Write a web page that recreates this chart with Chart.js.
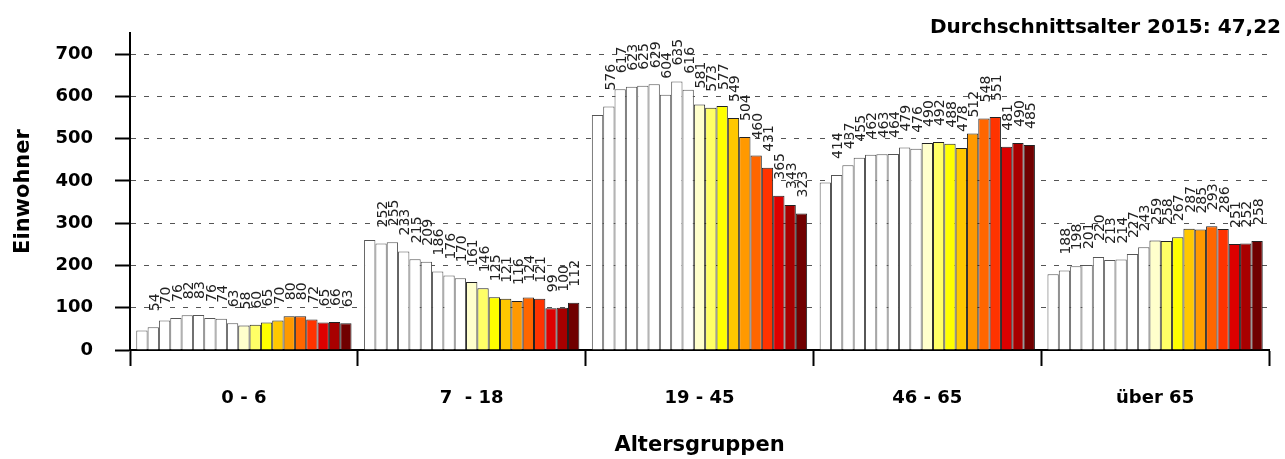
<!DOCTYPE html>
<html lang="de">
<head>
<meta charset="utf-8">
<title>Einwohner nach Altersgruppen</title>
<script src="https://cdn.jsdelivr.net/npm/chart.js@4.4.1/dist/chart.umd.min.js"></script>
<style>
	html, body { margin: 0; padding: 0; background: #fff; }
	#chart-wrap { position: relative; width: 1285px; height: 459px; }
</style>
</head>
<body>
<div id="chart-wrap"><canvas id="age-chart"></canvas></div>
<script>
	'use strict';

	// Age groups (x categories)
	const ageGroups = ['0 - 6', '7  - 18', '19 - 45', '46 - 65', 'über 65'];

	// One bar per year inside every group
	const years = [1997, 1998, 1999, 2000, 2001, 2002, 2003, 2004, 2005, 2006,
		2007, 2008, 2009, 2010, 2011, 2012, 2013, 2014, 2015];

	// Residents per age group, year by year
	const age0to6 = [46, 54, 70, 76, 82, 83, 76, 74, 63, 58, 60, 65, 70, 80, 80, 72, 65, 66, 63];
	const age7to18 = [260, 252, 255, 233, 215, 209, 186, 176, 170, 161, 146, 125, 121, 116, 124, 121, 99, 100, 112];
	const age19to45 = [556, 576, 617, 623, 625, 629, 604, 635, 616, 581, 573, 577, 549, 504, 460, 431, 365, 343, 323];
	const age46to65 = [396, 414, 437, 455, 462, 463, 464, 479, 476, 490, 492, 488, 478, 512, 548, 551, 481, 490, 485];
	const ageOver65 = [179, 188, 198, 201, 220, 213, 214, 227, 243, 259, 258, 267, 287, 285, 293, 286, 251, 252, 258];

	// Y axis ticks
	const yTicks = [0, 100, 200, 300, 400, 500, 600, 700];

	const headline = 'Durchschnittsalter 2015: 47,22';

	// Bar fill per year: older years white, recent years yellow -> dark red
	const yearColors = ['#ffffff', '#ffffff', '#ffffff', '#ffffff', '#ffffff', '#ffffff',
		'#ffffff', '#ffffff', '#ffffff', '#ffffcc', '#ffff66', '#ffff00', '#ffc800',
		'#ff9900', '#ff6600', '#ff3300', '#dd0000', '#a80000', '#700000'];

	const FONT = "'DejaVu Sans', Verdana, sans-serif";
	Chart.defaults.font.family = FONT;
	Chart.defaults.color = '#000';

	const groupSeries = [age0to6, age7to18, age19to45, age46to65, ageOver65];

	const datasets = years.map((year, i) => ({
		label: String(year),
		data: groupSeries.map(series => series[i]),
		backgroundColor: yearColors[i],
		borderColor: i < 9 ? '#555' : '#222',
		borderWidth: 1,
		barPercentage: 1,
		categoryPercentage: 0.945
	}));

	/**
	 * Rotated value labels above each bar (first year has none)
	 */
	const valueLabels = {
		id: 'valueLabels',
		afterDatasetsDraw(chart) {
			const ctx = chart.ctx;
			ctx.save();
			ctx.font = '14px ' + FONT;
			ctx.fillStyle = '#222';
			ctx.textAlign = 'left';
			ctx.textBaseline = 'middle';
			chart.data.datasets.forEach((ds, i) => {
				if (i === 0) return;
				const meta = chart.getDatasetMeta(i);
				meta.data.forEach((bar, j) => {
					ctx.save();
					ctx.translate(bar.x + 2, bar.y - 16);
					ctx.rotate(-Math.PI / 2);
					ctx.fillText(String(ds.data[j]), 0, 0);
					ctx.restore();
				});
			});
			ctx.restore();
		}
	};

	/**
	 * Headline in the top right corner
	 */
	const headlineText = {
		id: 'headlineText',
		afterDraw(chart) {
			const ctx = chart.ctx;
			ctx.save();
			ctx.font = 'bold 20px ' + FONT;
			ctx.fillStyle = '#000';
			ctx.textAlign = 'right';
			ctx.textBaseline = 'middle';
			ctx.fillText(headline, 1281, 28);
			ctx.restore();
		}
	};

	new Chart(document.getElementById('age-chart'), {
		type: 'bar',
		data: {
			labels: ageGroups,
			datasets: datasets
		},
		options: {
			responsive: true,
			maintainAspectRatio: false,
			animation: false,
			layout: {
				padding: { top: 33, right: 16, bottom: 0, left: 0 }
			},
			plugins: {
				legend: { display: false },
				tooltip: { enabled: false }
			},
			scales: {
				x: {
					afterFit: scale => { scale.height = 109; },
					grid: {
						offset: true,
						drawOnChartArea: false,
						tickLength: 16,
						tickWidth: 2,
						tickColor: '#000',
						color: '#000'
					},
					border: { color: '#000', width: 2 },
					ticks: {
						padding: 22,
						font: { size: 18, weight: 'bold' },
						color: '#000'
					},
					title: {
						display: true,
						text: 'Altersgruppen',
						font: { size: 21, weight: 'bold' },
						color: '#000',
						padding: { top: 0, bottom: 1 }
					}
				},
				y: {
					min: 0,
					max: 750,
					afterFit: scale => { scale.width = 130; },
					afterBuildTicks: scale => {
						scale.ticks = yTicks.map(v => ({ value: v }));
					},
					grid: {
						color: ctx => (ctx.tick && ctx.tick.value === 0) ? 'rgba(0,0,0,0)' : '#555',
						lineWidth: 1,
						tickLength: 15,
						tickWidth: 2,
						tickColor: '#000'
					},
					border: { color: '#000', width: 2, dash: [5, 8] },
					ticks: {
						padding: 22,
						font: { size: 18, weight: 'bold' },
						color: '#000'
					},
					title: {
						display: true,
						text: 'Einwohner',
						font: { size: 21, weight: 'bold' },
						color: '#000',
						padding: { top: 11, bottom: 0 }
					}
				}
			}
		},
		plugins: [valueLabels, headlineText]
	});
</script>
</body>
</html>
